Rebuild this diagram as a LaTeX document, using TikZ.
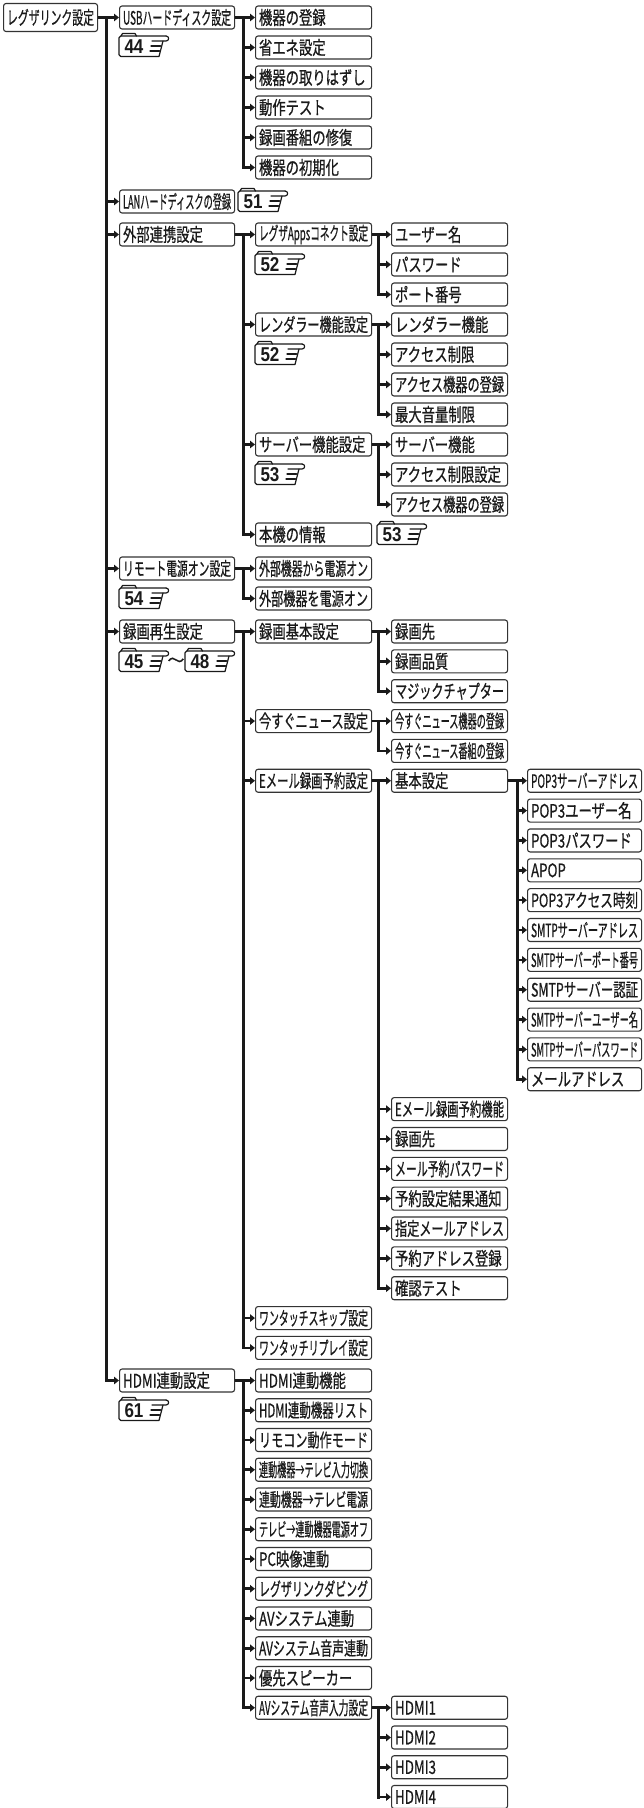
\documentclass[tikz,border=0pt]{standalone}
\usepackage{fontspec}
\usepackage{graphicx}
\setmainfont{Liberation Sans}
\newfontfamily\jpf[FakeBold=0.7]{Noto Sans CJK JP}
\newfontfamily\numf{Liberation Sans}
\usetikzlibrary{arrows.meta}
\newsavebox\lblbox
\newcommand\fitlbl[2]{\sbox\lblbox{#2}\pgfmathsetmacro\lblsx{min(0.72,#1/\the\wd\lblbox)}\scalebox{\lblsx}[1]{\usebox\lblbox}}
\definecolor{ink}{HTML}{1A1A1A}
\definecolor{edge}{HTML}{333333}
\tikzset{
 item/.style={draw=edge, line width=1.1pt, rounded corners=2.5pt, fill=white, anchor=west, minimum height=23pt, inner ysep=0pt, inner xsep=3.5pt, text width=#1pt, align=left, text=ink, font=\jpf\fontsize{18.5}{19}\selectfont},
 conn/.style={line width=3pt, draw=ink, line cap=rect},
 arr/.style={line width=2.6pt, draw=ink, -{Triangle[length=5pt,width=7.5pt]}},
 refline/.style={line width=1.2pt, draw=ink, line cap=round, line join=round},
 refnum/.style={inner sep=0pt, text=ink, font=\numf\bfseries\fontsize{20}{20}\selectfont},
}
\newcommand\nd[5]{\node[item=#4] (#1) at (#2,#3) {\fitlbl{#4}{#5}};}
\newcommand\pgref[4]{%
 \begin{scope}[shift={(#2,#3)}]
  \draw[refline, rounded corners=1.8pt] (37,20.5) -- (0,20.5) -- (0,0) -- (47,0);
  \draw[refline] (47,0) .. controls (50.5,0) and (50.5,5) .. (47,5) -- (33,5);
  \draw[refline] (32,10) -- (41.5,10);
  \draw[refline] (31,15) -- (40.5,15);
  \draw[refline] (44,5) -- (40,20.5) -- (37,20.5);
  \draw[refline] (2,0) -- (3.5,-2.5) -- (16,-2.5) -- (17.5,0);
  \node[refnum] (#1) at (15,10.8) {\scalebox{0.85}[1]{#4}};
 \end{scope}}
\begin{document}
\begin{tikzpicture}[x=1pt,y=-1pt]
\fill[white] (0,0) rectangle (643,1808);
\useasboundingbox (0,0) rectangle (643,1808);
\coordinate (tA) at (106,0);
\coordinate (tB) at (243,0);
\coordinate (tC) at (378,0);
\coordinate (tD) at (517,0);
\node[item=87, minimum height=28pt] (root) at (3,17.5) {\fitlbl{87}{レグザリンク設定}};
\nd{usb}{119}{17.5}{108}{USBハードディスク設定}
\nd{u1}{255}{17.5}{109}{機器の登録}
\nd{u2}{255}{47.5}{109}{省エネ設定}
\nd{u3}{255}{77.5}{109}{機器の取りはずし}
\nd{u4}{255}{107.5}{109}{動作テスト}
\nd{u5}{255}{137.5}{109}{録画番組の修復}
\nd{u6}{255}{167.5}{109}{機器の初期化}
\nd{lan}{119}{201.5}{108}{LANハードディスクの登録}
\nd{gb}{119}{234.5}{108}{外部連携設定}
\nd{ga}{255}{234.5}{109}{レグザAppsコネクト設定}
\nd{ga1}{391}{234.5}{109}{ユーザー名}
\nd{ga2}{391}{264.5}{109}{パスワード}
\nd{ga3}{391}{294.5}{109}{ポート番号}
\nd{gr}{255}{324.5}{109}{レンダラー機能設定}
\nd{gr1}{391}{324.5}{109}{レンダラー機能}
\nd{gr2}{391}{354.5}{109}{アクセス制限}
\nd{gr3}{391}{384.5}{109}{アクセス機器の登録}
\nd{gr4}{391}{414.5}{109}{最大音量制限}
\nd{gs}{255}{444.5}{109}{サーバー機能設定}
\nd{gs1}{391}{444.5}{109}{サーバー機能}
\nd{gs2}{391}{474.5}{109}{アクセス制限設定}
\nd{gs3}{391}{504.5}{109}{アクセス機器の登録}
\nd{gi}{255}{534.5}{109}{本機の情報}
\nd{rm}{119}{568.5}{108}{リモート電源オン設定}
\nd{rm1}{255}{568.5}{109}{外部機器から電源オン}
\nd{rm2}{255}{598.5}{109}{外部機器を電源オン}
\nd{rk}{119}{631.5}{108}{録画再生設定}
\nd{rb}{255}{631.5}{109}{録画基本設定}
\nd{rb1}{391}{631.5}{109}{録画先}
\nd{rb2}{391}{661.35}{109}{録画品質}
\nd{rb3}{391}{691.2}{109}{マジックチャプター}
\nd{rn}{255}{721.05}{109}{今すぐニュース設定}
\nd{rn1}{391}{721.05}{109}{今すぐニュース機器の登録}
\nd{rn2}{391}{750.9}{109}{今すぐニュース番組の登録}
\nd{re}{255}{780.75}{109}{Eメール録画予約設定}
\nd{rek}{391}{780.75}{109}{基本設定}
\nd{p1}{527}{780.75}{107}{POP3サーバーアドレス}
\nd{p2}{527}{810.6}{107}{POP3ユーザー名}
\nd{p3}{527}{840.45}{107}{POP3パスワード}
\nd{p4}{527}{870.3}{107}{APOP}
\nd{p5}{527}{900.15}{107}{POP3アクセス時刻}
\nd{p6}{527}{930}{107}{SMTPサーバーアドレス}
\nd{p7}{527}{959.85}{107}{SMTPサーバーポート番号}
\nd{p8}{527}{989.7}{107}{SMTPサーバー認証}
\nd{p9}{527}{1019.55}{107}{SMTPサーバーユーザー名}
\nd{p10}{527}{1049.4}{107}{SMTPサーバーパスワード}
\nd{p11}{527}{1079.25}{107}{メールアドレス}
\nd{e1}{391}{1109.1}{109}{Eメール録画予約機能}
\nd{e2}{391}{1138.95}{109}{録画先}
\nd{e3}{391}{1168.8}{109}{メール予約パスワード}
\nd{e4}{391}{1198.65}{109}{予約設定結果通知}
\nd{e5}{391}{1228.5}{109}{指定メールアドレス}
\nd{e6}{391}{1258.35}{109}{予約アドレス登録}
\nd{e7}{391}{1288.2}{109}{確認テスト}
\nd{ws}{255}{1318.05}{109}{ワンタッチスキップ設定}
\nd{wr}{255}{1347.9}{109}{ワンタッチリプレイ設定}
\nd{hd}{119}{1380.5}{108}{HDMI連動設定}
\nd{h1}{255}{1380.5}{109}{HDMI連動機能}
\nd{h2}{255}{1410.25}{109}{HDMI連動機器リスト}
\nd{h3}{255}{1440}{109}{リモコン動作モード}
\nd{h4}{255}{1469.75}{109}{連動機器→テレビ入力切換}
\nd{h5}{255}{1499.5}{109}{連動機器→テレビ電源}
\nd{h6}{255}{1529.25}{109}{テレビ→連動機器電源オフ}
\nd{h7}{255}{1559}{109}{PC映像連動}
\nd{h8}{255}{1588.75}{109}{レグザリンクダビング}
\nd{h9}{255}{1618.5}{109}{AVシステム連動}
\nd{h10}{255}{1648.25}{109}{AVシステム音声連動}
\nd{h11}{255}{1678}{109}{優先スピーカー}
\nd{h12}{255}{1707.75}{109}{AVシステム音声入力設定}
\nd{a1}{391}{1707.75}{109}{HDMI1}
\nd{a2}{391}{1737.5}{109}{HDMI2}
\nd{a3}{391}{1767.25}{109}{HDMI3}
\nd{a4}{391}{1797}{109}{HDMI4}
% connectors
\draw[conn] (root.east -| tA) -- (hd.west -| tA);
\draw[arr] (root.east) -- (usb.west);
\foreach \n in {lan,gb,rm,rk,hd} \draw[arr] (\n.west -| tA) -- (\n.west);
\draw[conn] (usb.east -| tB) -- (u6.west -| tB);
\draw[arr] (usb.east) -- (u1.west);
\foreach \n in {u2,u3,u4,u5,u6} \draw[arr] (\n.west -| tB) -- (\n.west);
\draw[conn] (gb.east -| tB) -- (gi.west -| tB);
\draw[arr] (gb.east) -- (ga.west);
\foreach \n in {gr,gs,gi} \draw[arr] (\n.west -| tB) -- (\n.west);
\draw[conn] (ga.east -| tC) -- (ga3.west -| tC);
\draw[arr] (ga.east) -- (ga1.west);
\foreach \n in {ga2,ga3} \draw[arr] (\n.west -| tC) -- (\n.west);
\draw[conn] (gr.east -| tC) -- (gr4.west -| tC);
\draw[arr] (gr.east) -- (gr1.west);
\foreach \n in {gr2,gr3,gr4} \draw[arr] (\n.west -| tC) -- (\n.west);
\draw[conn] (gs.east -| tC) -- (gs3.west -| tC);
\draw[arr] (gs.east) -- (gs1.west);
\foreach \n in {gs2,gs3} \draw[arr] (\n.west -| tC) -- (\n.west);
\draw[conn] (rm.east -| tB) -- (rm2.west -| tB);
\draw[arr] (rm.east) -- (rm1.west);
\draw[arr] (rm2.west -| tB) -- (rm2.west);
\draw[conn] (rk.east -| tB) -- (wr.west -| tB);
\draw[arr] (rk.east) -- (rb.west);
\foreach \n in {rn,re,ws,wr} \draw[arr] (\n.west -| tB) -- (\n.west);
\draw[conn] (rb.east -| tC) -- (rb3.west -| tC);
\draw[arr] (rb.east) -- (rb1.west);
\foreach \n in {rb2,rb3} \draw[arr] (\n.west -| tC) -- (\n.west);
\draw[conn] (rn.east -| tC) -- (rn2.west -| tC);
\draw[arr] (rn.east) -- (rn1.west);
\draw[arr] (rn2.west -| tC) -- (rn2.west);
\draw[conn] (re.east -| tC) -- (e7.west -| tC);
\draw[arr] (re.east) -- (rek.west);
\foreach \n in {e1,e2,e3,e4,e5,e6,e7} \draw[arr] (\n.west -| tC) -- (\n.west);
\draw[conn] (rek.east -| tD) -- (p11.west -| tD);
\draw[arr] (rek.east) -- (p1.west);
\foreach \n in {p2,p3,p4,p5,p6,p7,p8,p9,p10,p11} \draw[arr] (\n.west -| tD) -- (\n.west);
\draw[conn] (hd.east -| tB) -- (h12.west -| tB);
\draw[arr] (hd.east) -- (h1.west);
\foreach \n in {h2,h3,h4,h5,h6,h7,h8,h9,h10,h11,h12} \draw[arr] (\n.west -| tB) -- (\n.west);
\draw[conn] (h12.east -| tC) -- (a4.west -| tC);
\draw[arr] (h12.east) -- (a1.west);
\foreach \n in {a2,a3,a4} \draw[arr] (\n.west -| tC) -- (\n.west);
% page references
\pgref{r44}{119}{36}{44}
\pgref{r51}{238}{191}{51}
\pgref{r52a}{255}{254}{52}
\pgref{r52b}{255}{344}{52}
\pgref{r53a}{255}{464}{53}
\pgref{r53b}{377}{524}{53}
\pgref{r54}{119}{588}{54}
\pgref{r45}{119}{651}{45}
\pgref{r48}{185}{651}{48}
\pgref{r61}{119}{1400}{61}
\node[inner sep=0pt, text=ink, font=\jpf\fontsize{17}{17}\selectfont] (tilde) at (176,662) {〜};
\end{tikzpicture}
\end{document}
